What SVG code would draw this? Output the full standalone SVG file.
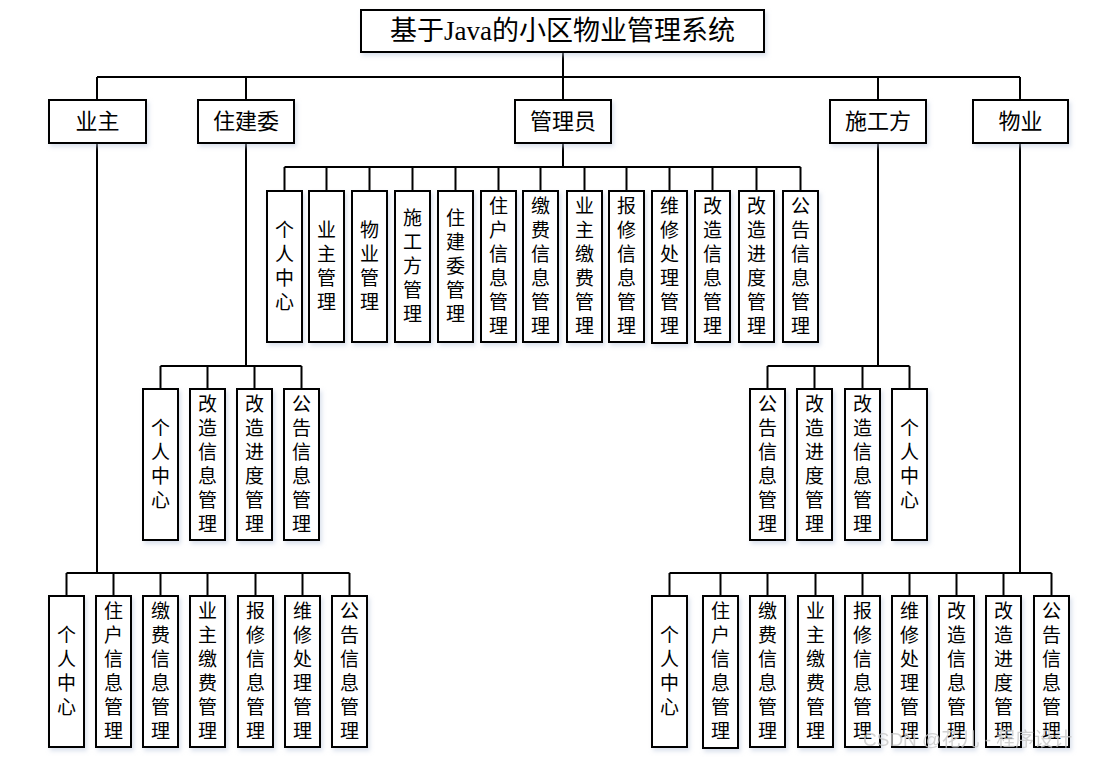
<svg xmlns="http://www.w3.org/2000/svg" width="1103" height="757" viewBox="0 0 1103 757">
<style>
.b{fill:#fff;stroke:#000;stroke-width:2;filter:url(#sh)}
.t{font-family:"Liberation Serif","Noto Sans CJK SC",serif;font-size:19px;text-anchor:middle;dominant-baseline:central;fill:#000}
.h{font-size:22px}
.ti{font-size:27px}
.c{fill:none;stroke:#000;stroke-width:2}
.wm{font-family:"Liberation Sans","Noto Sans CJK SC",sans-serif;font-size:19px;fill:#c8c8c8;opacity:0.8}
</style>
<defs>
<filter id="sh" x="-20%" y="-20%" width="150%" height="150%">
<feDropShadow dx="2" dy="3" stdDeviation="2" flood-color="#b8c4dc" flood-opacity="0.5"/>
</filter>
</defs>
<rect width="1103" height="757" fill="#fff"/>
<g id="connectors">
<path class="c" d="M563 52V77M97 77H1020M97 77V100M246 77V100M563 77V100M878 77V100M1020 77V100"/>
<path class="c" d="M563 143V167M284.5 167H800.5M284.5 167V191M326.5 167V191M369.5 167V191M412.5 167V191M455.5 167V191M498.5 167V191M540.5 167V191M584.5 167V191M626.5 167V191M669.5 167V191M712.5 167V191M756.5 167V191M800.5 167V191"/>
<path class="c" d="M246 143V366M160.5 366H301.5M160.5 366V389M207.5 366V389M254.5 366V389M301.5 366V389"/>
<path class="c" d="M878 143V366M767.5 366H909.5M767.5 366V389M814.5 366V389M862.5 366V389M909.5 366V389"/>
<path class="c" d="M97 143V573M66.5 573H349.5M66.5 573V596M113.5 573V596M160.5 573V596M207.5 573V596M255.5 573V596M302.5 573V596M349.5 573V596"/>
<path class="c" d="M1020 143V573M669.5 573H1051.5M669.5 573V596M720.5 573V596M767.5 573V596M815.5 573V596M862.5 573V596M909.5 573V596M956.5 573V596M1003.5 573V596M1051.5 573V596"/>
</g>
<g id="title"><rect class="b" x="361" y="10" width="403" height="42"/><text class="t ti" x="562.5" y="31">基于Java的小区物业管理系统</text></g>
<g id="n-yezhu"><rect class="b" x="49" y="100" width="97" height="43"/><text class="t h" x="97.5" y="121.5">业主</text></g>
<g id="n-zhujianwei"><rect class="b" x="198" y="100" width="96" height="43"/><text class="t h" x="246" y="121.5">住建委</text></g>
<g id="n-admin"><rect class="b" x="515" y="100" width="96" height="43"/><text class="t h" x="563" y="121.5">管理员</text></g>
<g id="n-shigong"><rect class="b" x="830" y="100" width="96" height="43"/><text class="t h" x="878" y="121.5">施工方</text></g>
<g id="n-wuye"><rect class="b" x="973" y="100" width="95" height="43"/><text class="t h" x="1020.5" y="121.5">物业</text></g>

<g id="a1"><rect class="b" x="267" y="191" width="35" height="151"/><text class="t" x="284.5 284.5 284.5 284.5" y="230 254 278 302">个人中心</text></g>
<g id="a2"><rect class="b" x="309" y="191" width="35" height="151"/><text class="t" x="326.5 326.5 326.5 326.5" y="230 254 278 302">业主管理</text></g>
<g id="a3"><rect class="b" x="352" y="191" width="35" height="151"/><text class="t" x="369.5 369.5 369.5 369.5" y="230 254 278 302">物业管理</text></g>
<g id="a4"><rect class="b" x="395" y="191" width="35" height="151"/><text class="t" x="412.5 412.5 412.5 412.5 412.5" y="218 242 266 290 314">施工方管理</text></g>
<g id="a5"><rect class="b" x="438" y="191" width="35" height="151"/><text class="t" x="455.5 455.5 455.5 455.5 455.5" y="218 242 266 290 314">住建委管理</text></g>
<g id="a6"><rect class="b" x="481" y="191" width="35" height="151"/><text class="t" x="498.5 498.5 498.5 498.5 498.5 498.5" y="206 230 254 278 302 326">住户信息管理</text></g>
<g id="a7"><rect class="b" x="523" y="191" width="35" height="151"/><text class="t" x="540.5 540.5 540.5 540.5 540.5 540.5" y="206 230 254 278 302 326">缴费信息管理</text></g>
<g id="a8"><rect class="b" x="567" y="191" width="35" height="151"/><text class="t" x="584.5 584.5 584.5 584.5 584.5 584.5" y="206 230 254 278 302 326">业主缴费管理</text></g>
<g id="a9"><rect class="b" x="609" y="191" width="35" height="151"/><text class="t" x="626.5 626.5 626.5 626.5 626.5 626.5" y="206 230 254 278 302 326">报修信息管理</text></g>
<g id="a10"><rect class="b" x="652" y="191" width="35" height="152"/><text class="t" x="669.5 669.5 669.5 669.5 669.5 669.5" y="206 230 254 278 302 326">维修处理管理</text></g>
<g id="a11"><rect class="b" x="695" y="191" width="35" height="151"/><text class="t" x="712.5 712.5 712.5 712.5 712.5 712.5" y="206 230 254 278 302 326">改造信息管理</text></g>
<g id="a12"><rect class="b" x="739" y="191" width="35" height="151"/><text class="t" x="756.5 756.5 756.5 756.5 756.5 756.5" y="206 230 254 278 302 326">改造进度管理</text></g>
<g id="a13"><rect class="b" x="783" y="191" width="35" height="151"/><text class="t" x="800.5 800.5 800.5 800.5 800.5 800.5" y="206 230 254 278 302 326">公告信息管理</text></g>

<g id="z1"><rect class="b" x="143" y="389" width="35" height="151"/><text class="t" x="160.5 160.5 160.5 160.5" y="428.5 452.5 476.5 500.5">个人中心</text></g>
<g id="z2"><rect class="b" x="190" y="389" width="35" height="151"/><text class="t" x="207.5 207.5 207.5 207.5 207.5 207.5" y="404.5 428.5 452.5 476.5 500.5 524.5">改造信息管理</text></g>
<g id="z3"><rect class="b" x="237" y="389" width="35" height="151"/><text class="t" x="254.5 254.5 254.5 254.5 254.5 254.5" y="404.5 428.5 452.5 476.5 500.5 524.5">改造进度管理</text></g>
<g id="z4"><rect class="b" x="284" y="389" width="35" height="151"/><text class="t" x="301.5 301.5 301.5 301.5 301.5 301.5" y="404.5 428.5 452.5 476.5 500.5 524.5">公告信息管理</text></g>

<g id="s1"><rect class="b" x="750" y="389" width="35" height="151"/><text class="t" x="767.5 767.5 767.5 767.5 767.5 767.5" y="404.5 428.5 452.5 476.5 500.5 524.5">公告信息管理</text></g>
<g id="s2"><rect class="b" x="797" y="389" width="35" height="151"/><text class="t" x="814.5 814.5 814.5 814.5 814.5 814.5" y="404.5 428.5 452.5 476.5 500.5 524.5">改造进度管理</text></g>
<g id="s3"><rect class="b" x="845" y="389" width="35" height="151"/><text class="t" x="862.5 862.5 862.5 862.5 862.5 862.5" y="404.5 428.5 452.5 476.5 500.5 524.5">改造信息管理</text></g>
<g id="s4"><rect class="b" x="892" y="389" width="35" height="151"/><text class="t" x="909.5 909.5 909.5 909.5" y="428.5 452.5 476.5 500.5">个人中心</text></g>

<g id="y1"><rect class="b" x="49" y="596" width="35" height="151"/><text class="t" x="66.5 66.5 66.5 66.5" y="635.5 659.5 683.5 707.5">个人中心</text></g>
<g id="y2"><rect class="b" x="96" y="596" width="35" height="151"/><text class="t" x="113.5 113.5 113.5 113.5 113.5 113.5" y="611.5 635.5 659.5 683.5 707.5 731.5">住户信息管理</text></g>
<g id="y3"><rect class="b" x="143" y="596" width="35" height="151"/><text class="t" x="160.5 160.5 160.5 160.5 160.5 160.5" y="611.5 635.5 659.5 683.5 707.5 731.5">缴费信息管理</text></g>
<g id="y4"><rect class="b" x="190" y="596" width="35" height="151"/><text class="t" x="207.5 207.5 207.5 207.5 207.5 207.5" y="611.5 635.5 659.5 683.5 707.5 731.5">业主缴费管理</text></g>
<g id="y5"><rect class="b" x="238" y="596" width="35" height="151"/><text class="t" x="255.5 255.5 255.5 255.5 255.5 255.5" y="611.5 635.5 659.5 683.5 707.5 731.5">报修信息管理</text></g>
<g id="y6"><rect class="b" x="285" y="596" width="35" height="151"/><text class="t" x="302.5 302.5 302.5 302.5 302.5 302.5" y="611.5 635.5 659.5 683.5 707.5 731.5">维修处理管理</text></g>
<g id="y7"><rect class="b" x="332" y="596" width="35" height="151"/><text class="t" x="349.5 349.5 349.5 349.5 349.5 349.5" y="611.5 635.5 659.5 683.5 707.5 731.5">公告信息管理</text></g>

<g id="w1"><rect class="b" x="652" y="596" width="35" height="151"/><text class="t" x="669.5 669.5 669.5 669.5" y="635.5 659.5 683.5 707.5">个人中心</text></g>
<g id="w2"><rect class="b" x="703" y="596" width="35" height="152"/><text class="t" x="720.5 720.5 720.5 720.5 720.5 720.5" y="611.5 635.5 659.5 683.5 707.5 731.5">住户信息管理</text></g>
<g id="w3"><rect class="b" x="750" y="596" width="35" height="151"/><text class="t" x="767.5 767.5 767.5 767.5 767.5 767.5" y="611.5 635.5 659.5 683.5 707.5 731.5">缴费信息管理</text></g>
<g id="w4"><rect class="b" x="798" y="596" width="35" height="151"/><text class="t" x="815.5 815.5 815.5 815.5 815.5 815.5" y="611.5 635.5 659.5 683.5 707.5 731.5">业主缴费管理</text></g>
<g id="w5"><rect class="b" x="845" y="596" width="35" height="151"/><text class="t" x="862.5 862.5 862.5 862.5 862.5 862.5" y="611.5 635.5 659.5 683.5 707.5 731.5">报修信息管理</text></g>
<g id="w6"><rect class="b" x="892" y="596" width="35" height="151"/><text class="t" x="909.5 909.5 909.5 909.5 909.5 909.5" y="611.5 635.5 659.5 683.5 707.5 731.5">维修处理管理</text></g>
<g id="w7"><rect class="b" x="939" y="596" width="35" height="151"/><text class="t" x="956.5 956.5 956.5 956.5 956.5 956.5" y="611.5 635.5 659.5 683.5 707.5 731.5">改造信息管理</text></g>
<g id="w8"><rect class="b" x="986" y="596" width="35" height="151"/><text class="t" x="1003.5 1003.5 1003.5 1003.5 1003.5 1003.5" y="611.5 635.5 659.5 683.5 707.5 731.5">改造进度管理</text></g>
<g id="w9"><rect class="b" x="1034" y="596" width="35" height="151"/><text class="t" x="1051.5 1051.5 1051.5 1051.5 1051.5 1051.5" y="611.5 635.5 659.5 683.5 707.5 731.5">公告信息管理</text></g>

<text class="wm" x="863" y="746">CSDN @花儿 - 程序设计</text>
</svg>
